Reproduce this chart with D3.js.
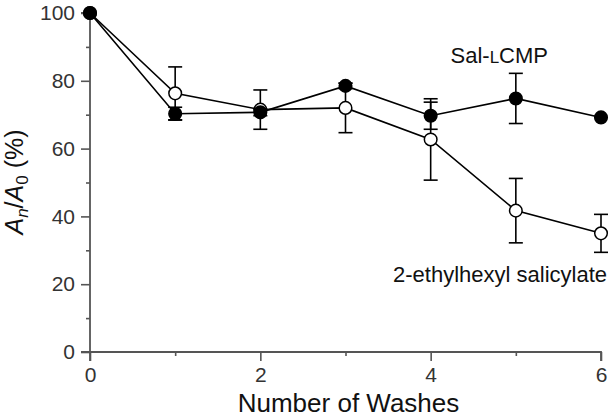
<!DOCTYPE html>
<html>
<head>
<meta charset="utf-8">
<script src="https://cdn.jsdelivr.net/npm/d3@7"></script>
<style>
  html, body { margin: 0; padding: 0; background: #fff; }
  svg { display: block; font-family: Arial, "Liberation Sans", Helvetica, sans-serif; }
</style>
</head>
<body>
<svg id="chart" width="615" height="418"></svg>
<script>
const washes = [0, 1, 2, 3, 4, 5, 6];
const salMean = [100, 70.3, 70.7, 78.5, 69.7, 74.8, 69.2];
const salErr = [0, 1.9, 1.0, 0.8, 4.0, 7.4, 0];
const ehsMean = [100, 76.3, 71.5, 72.0, 62.7, 41.7, 35.0];
const ehsErr = [0, 7.8, 5.8, 7.3, 12.0, 9.5, 5.6];
const xTicks = [0, 2, 4, 6];
const xMinor = [1, 3, 5];
const yTicks = [0, 20, 40, 60, 80, 100];
const yMinor = [10, 30, 50, 70, 90];

const svg = d3.select("#chart");
const x = d3.scaleLinear().domain([0, 6]).range([90, 601]);
const y = d3.scaleLinear().domain([0, 100]).range([352, 13]);
const axisColor = "#555";
const textColor = "#333";

// Axes
const gx = svg.append("g").attr("transform", `translate(0,${y(0)})`)
  .call(d3.axisBottom(x).tickValues(xTicks).tickFormat(d3.format("d")).tickSize(9).tickPadding(6));
const gxm = svg.append("g").attr("transform", `translate(0,${y(0)})`)
  .call(d3.axisBottom(x).tickValues(xMinor).tickFormat("").tickSize(4).tickSizeOuter(0));
const gy = svg.append("g").attr("transform", `translate(${x(0)},0)`)
  .call(d3.axisLeft(y).tickValues(yTicks).tickFormat(d3.format("d")).tickSize(9).tickPadding(6));
const gym = svg.append("g").attr("transform", `translate(${x(0)},0)`)
  .call(d3.axisLeft(y).tickValues(yMinor).tickFormat("").tickSize(4).tickSizeOuter(0));
[gx, gxm, gy, gym].forEach(g => {
  g.select(".domain").attr("stroke", axisColor).attr("stroke-width", 1.8);
  g.selectAll(".tick line").attr("stroke", axisColor).attr("stroke-width", 1.6);
  g.selectAll(".tick text").attr("fill", textColor).attr("font-size", 21)
    .attr("font-family", "Arial, 'Liberation Sans', sans-serif");
});
gxm.select(".domain").remove();
gym.select(".domain").remove();
gx.select(".domain").attr("d", `M${x(0)},9V0H${x(6)}V9`);
gy.select(".domain").attr("d", `M-9,${y(100)}H0V${y(0)}H-9`);

// Axis titles
svg.append("text").attr("x", (x(0) + x(6)) / 2 + 3).attr("y", 412)
  .attr("text-anchor", "middle").attr("font-size", 26).attr("fill", "#111")
  .text("Number of Washes");

const yl = svg.append("text")
  .attr("transform", `translate(23,182) rotate(-90)`)
  .attr("text-anchor", "middle").attr("font-size", 25).attr("fill", "#111");
yl.append("tspan").attr("font-style", "italic").text("A");
yl.append("tspan").attr("font-style", "italic").attr("font-size", 17).attr("dy", 5).text("n");
yl.append("tspan").attr("dy", -5).text("/");
yl.append("tspan").attr("font-style", "italic").text("A");
yl.append("tspan").attr("font-size", 17).attr("dy", 5).text("0");
yl.append("tspan").attr("dy", -5).text(" (%)");

function drawSeries(mean, err, filled) {
  const pts = washes.map((w, i) => ({ w, m: mean[i], e: err[i] }));
  const g = svg.append("g");
  g.append("path").datum(pts)
    .attr("fill", "none").attr("stroke", "#000").attr("stroke-width", 1.6)
    .attr("d", d3.line().x(d => x(d.w)).y(d => y(d.m)));
  const eb = g.selectAll(".eb").data(pts.filter(d => d.e > 0)).enter().append("g");
  eb.append("line").attr("x1", d => x(d.w)).attr("x2", d => x(d.w))
    .attr("y1", d => y(d.m - d.e)).attr("y2", d => y(d.m + d.e))
    .attr("stroke", "#000").attr("stroke-width", 1.6);
  [-1, 1].forEach(s => {
    eb.append("line").attr("x1", d => x(d.w) - 7).attr("x2", d => x(d.w) + 7)
      .attr("y1", d => y(d.m + s * d.e)).attr("y2", d => y(d.m + s * d.e))
      .attr("stroke", "#000").attr("stroke-width", 1.6);
  });
  g.selectAll("circle").data(pts).enter().append("circle")
    .attr("cx", d => x(d.w)).attr("cy", d => y(d.m))
    .attr("r", 6.3)
    .attr("fill", filled ? "#000" : "#fff")
    .attr("stroke", "#000").attr("stroke-width", 1.5);
}
drawSeries(ehsMean, ehsErr, false);
drawSeries(salMean, salErr, true);

// Series labels
const sl = svg.append("text").attr("x", 548).attr("y", 63)
  .attr("text-anchor", "end").attr("font-size", 22).attr("fill", "#111");
sl.append("tspan").text("Sal-");
sl.append("tspan").attr("font-size", 17).text("L");
sl.append("tspan").text("CMP");

svg.append("text").attr("x", 607).attr("y", 282)
  .attr("text-anchor", "end").attr("font-size", 22).attr("fill", "#111")
  .text("2-ethylhexyl salicylate");
</script>
</body>
</html>
